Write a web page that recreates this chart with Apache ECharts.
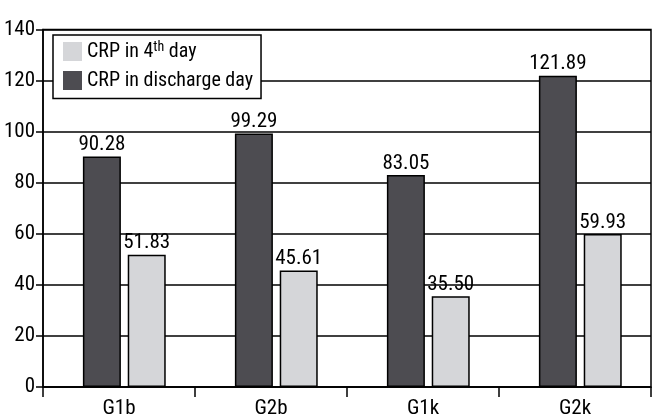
<!DOCTYPE html>
<html>
<head>
<meta charset="utf-8">
<script src="https://cdn.jsdelivr.net/npm/echarts@6/dist/echarts.min.js"></script>
<style>
html,body{margin:0;padding:0;background:#fff;}
#main{width:655px;height:419px;}
</style>
</head>
<body>
<div id="main"></div>
<script>
// 数据
var groups = ['G1b', 'G2b', 'G1k', 'G2k'];
var crpDischarge = [90.28, 99.29, 83.05, 121.89];
var crp4thDay = [51.83, 45.61, 35.50, 59.93];
var yTicks = [0, 20, 40, 60, 80, 100, 120, 140];

var FONT = "'Roboto Condensed', 'Liberation Sans Narrow', sans-serif";
var FS = 21;

(function(){
  var myChart = echarts.init(document.getElementById('main'));
  var valueLabel = {
    show: true, position: 'top', distance: 1,
    color: '#000', fontSize: FS, fontFamily: FONT,
    formatter: function(p){ return p.value.toFixed(2); }
  };
  var option = {
    animation: false,
    textStyle: { fontFamily: FONT },
    grid: {
      left: 43,
      right: 4,
      top: 29.5,
      bottom: 28,
      show: true,
      borderColor: '#000',
      borderWidth: 1.5
    },
    legend: {
      data: ['CRP in 4th day', 'CRP in discharge day'],
      orient: 'vertical',
      left: 53,
      top: 35,
      padding: [5, 8, 8, 10],
      itemGap: 9,
      itemWidth: 19,
      itemHeight: 19,
      icon: 'rect',
      backgroundColor: '#fff',
      borderColor: '#000',
      borderWidth: 1.5,
      selectedMode: false,
      itemStyle: { borderWidth: 0 },
      formatter: function(name){
        return name === 'CRP in 4th day' ? 'CRP in 4{sup|th} day' : name;
      },
      textStyle: {
        fontFamily: FONT,
        fontSize: 20,
        color: '#000',
        rich: {
          sup: { fontFamily: FONT, fontSize: 14, color: '#000', padding: [0, 0, 9, 0] }
        }
      }
    },
    xAxis: {
      type: 'category',
      data: groups,
      axisLine: { lineStyle: { color: '#000', width: 1.5 } },
      axisTick: { show: true, length: 10, lineStyle: { color: '#000', width: 1.5 } },
      axisLabel: { color: '#000', fontSize: FS, fontFamily: FONT, margin: 11 }
    },
    yAxis: {
      type: 'value',
      min: yTicks[0],
      max: yTicks[yTicks.length - 1],
      interval: yTicks[1] - yTicks[0],
      axisLine: { show: true, lineStyle: { color: '#000', width: 1.5 } },
      axisTick: { show: true, length: 7, lineStyle: { color: '#000', width: 1.5 } },
      axisLabel: { color: '#000', fontSize: FS, fontFamily: FONT, margin: 8 },
      splitLine: { lineStyle: { color: '#000', width: 1.5 } }
    },
    series: [
      {
        // 空白占位，让柱组略微右移
        name: 'spacer',
        type: 'bar',
        data: [0, 0, 0, 0],
        barWidth: 9,
        silent: true,
        itemStyle: { color: 'rgba(0,0,0,0)', borderWidth: 0 },
        label: { show: false }
      },
      {
        name: 'CRP in discharge day',
        type: 'bar',
        data: crpDischarge,
        barWidth: 38,
        itemStyle: { color: '#4d4c51', borderColor: '#000', borderWidth: 1.5 },
        label: valueLabel
      },
      {
        name: 'CRP in 4th day',
        type: 'bar',
        data: crp4thDay,
        barWidth: 38,
        barGap: '18%',
        itemStyle: { color: '#d5d6d9', borderColor: '#000', borderWidth: 1.5 },
        label: valueLabel
      }
    ]
  };
  myChart.setOption(option);
  window.addEventListener('resize', function(){
    myChart.resize();
  });
})();
</script>
</body>
</html>
